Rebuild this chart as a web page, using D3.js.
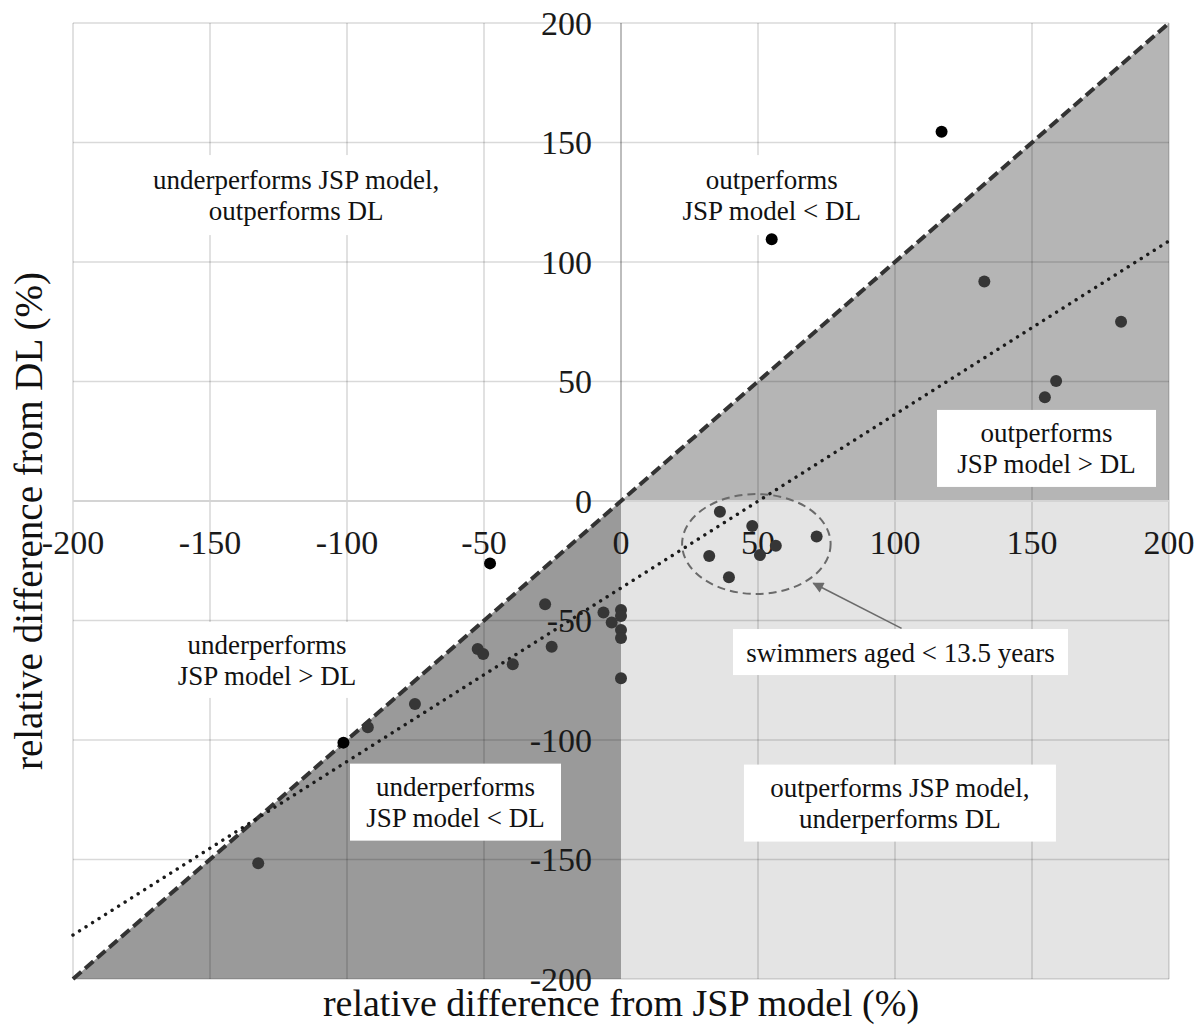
<!DOCTYPE html>
<html>
<head>
<meta charset="utf-8">
<script src="https://cdn.jsdelivr.net/npm/d3@7"></script>
<style>
  html, body { margin: 0; padding: 0; background: #fff; }
  svg text { font-family: "Liberation Serif", "Times New Roman", serif; }
</style>
</head>
<body>
<svg id="chart" width="1204" height="1026"></svg>
<script>
// ---------- data ----------
const xTicks = [-200, -150, -100, -50, 0, 50, 100, 150, 200];
const yTicks = [-200, -150, -100, -50, 0, 50, 100, 150, 200];

const xValues = [117, 55, 132.6, 182.5, 158.8, 154.7,
  36.1, 47.9, 71.4, 56.5, 50.7, 32.2, 39.4,
  -47.8, -27.7, -6.4, 0, 0, -3.4, 0, 0, 0,
  -25.3, -39.5, -52.3, -50.3, -75.2, -92.4, -101.3, -132.4];
const yValues = [154.5, 109.5, 91.8, 75, 50.2, 43.4,
  -4.5, -10.5, -14.9, -18.7, -22.6, -23, -31.9,
  -26.1, -43.2, -46.7, -45.6, -48.1, -50.8, -54, -57.3, -74.2,
  -61, -68.3, -61.9, -64, -84.9, -94.7, -101.1, -151.6];

// diagonal (equal performance) and trend line endpoints, in data units
const diagonalX = [-200, 200];
const diagonalY = [-200, 200];
const trendX = [-200, 200];
const trendY = [-181.6, 108.8];

// shaded regions (data units)
const regionDark  = [[-200, -200], [0, 0], [0, -200]];
const regionMid   = [[0, 0], [200, 200], [200, 0]];
const regionLight = [[0, 0], [200, 0], [200, -200], [0, -200]];

// region labels
const labelLines = [
  ["underperforms JSP model,", "outperforms DL"],
  ["outperforms", "JSP model < DL"],
  ["underperforms", "JSP model > DL"],
  ["outperforms", "JSP model > DL"],
  ["underperforms", "JSP model < DL"],
  ["outperforms JSP model,", "underperforms DL"],
  ["swimmers aged < 13.5 years"]
];
const labelAnchorX = [-118.6, 55, -129.2, 155.3, -60.4, 101.8, 102];
const labelAnchorY = [128, 128, -66.5, 22, -126, -126.4, -63.2];

// ellipse around the young swimmers & arrow (data units)
const ellipseCenter = [49.4, -18];
const ellipseRadii = [27.1, 20.9];
const arrowFrom = [102.4, -53.3];
const arrowTo = [70.2, -34.4];

const xTitle = "relative difference from JSP model (%)";
const yTitle = "relative difference from DL (%)";

// ---------- layout ----------
const labelBoxSize = [[316, 80], [200, 80], [200, 76], [219, 77], [211, 77], [312, 77], [335, 46]];

const svg = d3.select("#chart");
const x = d3.scaleLinear().domain([-200, 200]).range([73, 1169]);
const y = d3.scaleLinear().domain([-200, 200]).range([979, 23]);

const poly = pts => "M" + pts.map(p => x(p[0]) + "," + y(p[1])).join("L") + "Z";

// vertical axis line (under regions)
svg.append("line")
  .attr("x1", x(0)).attr("x2", x(0)).attr("y1", y(200)).attr("y2", y(-200))
  .attr("stroke", "#bdbdbd").attr("stroke-width", 2);

// regions
svg.append("path").attr("d", poly(regionDark)).attr("fill", "#9a9a9a");
svg.append("path").attr("d", poly(regionMid)).attr("fill", "#b5b5b5");
svg.append("path").attr("d", poly(regionLight)).attr("fill", "#e4e4e4");

// gridlines
const grid = svg.append("g");
grid.selectAll("line.vx").data(xTicks.filter(d => d !== 0)).join("line")
  .attr("x1", d => x(d)).attr("x2", d => x(d))
  .attr("y1", y(200)).attr("y2", y(-200))
  .attr("stroke", "rgba(0,0,0,0.15)").attr("stroke-width", 1.6);
grid.selectAll("line.hy").data(yTicks.filter(d => d !== 0)).join("line")
  .attr("x1", x(-200)).attr("x2", x(200))
  .attr("y1", d => y(d)).attr("y2", d => y(d))
  .attr("stroke", "rgba(0,0,0,0.15)").attr("stroke-width", 1.6);
// horizontal axis line
svg.append("line")
  .attr("x1", x(-200)).attr("x2", x(200)).attr("y1", y(0)).attr("y2", y(0))
  .attr("stroke", "#d4d4d4").attr("stroke-width", 2);

// tick labels
const tickFont = 34;
svg.append("g").selectAll("text").data(yTicks).join("text")
  .attr("x", x(0) - 29).attr("y", d => y(d) + 11.5)
  .attr("text-anchor", "end").attr("font-size", tickFont).attr("fill", "#1a1a1a")
  .text(d => d);
svg.append("g").selectAll("text").data(xTicks).join("text")
  .attr("x", d => x(d)).attr("y", y(0) + 53)
  .attr("text-anchor", "middle").attr("font-size", tickFont).attr("fill", "#1a1a1a")
  .text(d => d);

// label boxes
const lab = svg.append("g");
labelLines.forEach((lines, i) => {
  const cx = x(labelAnchorX[i]), cy = y(labelAnchorY[i]);
  const [w, h] = labelBoxSize[i];
  lab.append("rect")
    .attr("x", cx - w / 2).attr("y", cy - h / 2).attr("width", w).attr("height", h)
    .attr("fill", "#fff");
  const t = lab.append("text").attr("text-anchor", "middle").attr("font-size", 27).attr("fill", "#111");
  if (lines.length === 1) {
    t.append("tspan").attr("x", cx).attr("y", cy + 10).text(lines[0]);
  } else {
    t.append("tspan").attr("x", cx).attr("y", cy - 6).text(lines[0]);
    t.append("tspan").attr("x", cx).attr("y", cy + 25).text(lines[1]);
  }
});

// ellipse
svg.append("ellipse")
  .attr("cx", x(ellipseCenter[0])).attr("cy", y(ellipseCenter[1]))
  .attr("rx", x(ellipseCenter[0] + ellipseRadii[0]) - x(ellipseCenter[0]))
  .attr("ry", y(ellipseCenter[1] - ellipseRadii[1]) - y(ellipseCenter[1]))
  .attr("fill", "none").attr("stroke", "#6a6a6a").attr("stroke-width", 2)
  .attr("stroke-dasharray", "8,5");

// arrow
const defs = svg.append("defs");
defs.append("marker").attr("id", "ah").attr("viewBox", "0 0 10 10")
  .attr("refX", 9).attr("refY", 5).attr("markerWidth", 13).attr("markerHeight", 11)
  .attr("markerUnits", "userSpaceOnUse")
  .attr("orient", "auto")
  .append("path").attr("d", "M0,0L10,5L0,10Z").attr("fill", "#6a6a6a");
svg.append("line")
  .attr("x1", x(arrowFrom[0])).attr("y1", y(arrowFrom[1]))
  .attr("x2", x(arrowTo[0])).attr("y2", y(arrowTo[1]))
  .attr("stroke", "#6a6a6a").attr("stroke-width", 1.6)
  .attr("marker-end", "url(#ah)");

// diagonal dashed line
const line = d3.line().x(d => x(d[0])).y(d => y(d[1]));
svg.append("path")
  .attr("d", line(diagonalX.map((v, i) => [v, diagonalY[i]])))
  .attr("fill", "none").attr("stroke", "#333").attr("stroke-width", 4)
  .attr("stroke-dasharray", "11,5");

// trend dotted line
svg.append("path")
  .attr("d", line(trendX.map((v, i) => [v, trendY[i]])))
  .attr("fill", "none").attr("stroke", "#1a1a1a").attr("stroke-width", 3.4)
  .attr("stroke-linecap", "round").attr("stroke-dasharray", "0.01,7.7");

// points
const pts = xValues.map((v, i) => ({ x: v, y: yValues[i] }));
const inWhite = d => d.y >= d.x && !(d.x > 0 && d.y < 0);
svg.append("g").selectAll("circle").data(pts).join("circle")
  .attr("cx", d => x(d.x)).attr("cy", d => y(d.y)).attr("r", 6)
  .attr("fill", d => inWhite(d) ? "#000" : "#363636");

// axis titles
svg.append("text")
  .attr("x", x(0)).attr("y", 1016)
  .attr("text-anchor", "middle").attr("font-size", 38).attr("fill", "#111")
  .text(xTitle);
svg.append("text")
  .attr("transform", "translate(42,521) rotate(-90)")
  .attr("text-anchor", "middle").attr("font-size", 39).attr("fill", "#111")
  .text(yTitle);
</script>
</body>
</html>
